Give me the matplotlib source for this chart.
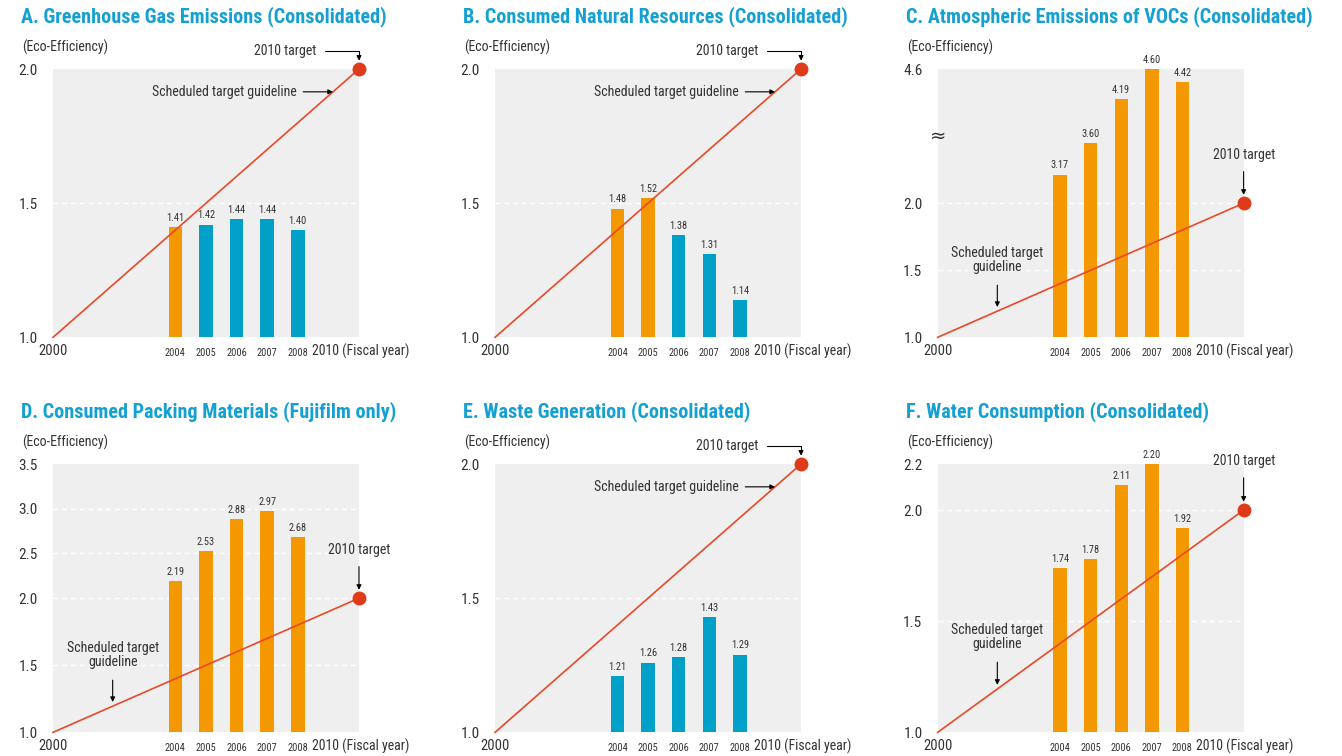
import numpy as np
import matplotlib
matplotlib.use("Agg")
import matplotlib.pyplot as plt
from matplotlib import font_manager

# pick a narrow font if we have one
def pick_font(names):
    for n in names:
        try:
            font_manager.findfont(n, fallback_to_default=False)
            return n
        except Exception:
            pass
    return "DejaVu Sans"

FONT = pick_font(["Liberation Sans Narrow", "Roboto Condensed", "Liberation Sans"])
plt.rcParams["font.family"] = [FONT, "DejaVu Sans"]

# data
years = [2004, 2005, 2006, 2007, 2008]
titles = [
    "A. Greenhouse Gas Emissions (Consolidated)",
    "B. Consumed Natural Resources (Consolidated)",
    "C. Atmospheric Emissions of VOCs (Consolidated)",
    "D. Consumed Packing Materials (Fujifilm only)",
    "E. Waste Generation (Consolidated)",
    "F. Water Consumption (Consolidated)",
]
ghg = [1.41, 1.42, 1.44, 1.44, 1.40]
resources = [1.48, 1.52, 1.38, 1.31, 1.14]
vocs = [3.17, 3.60, 4.19, 4.60, 4.42]
packing = [2.19, 2.53, 2.88, 2.97, 2.68]
waste = [1.21, 1.26, 1.28, 1.43, 1.29]
water = [1.74, 1.78, 2.11, 2.20, 1.92]

ticks_ab = [1.0, 1.5, 2.0]
ticks_c = [1.0, 1.5, 2.0, 4.6]
ticks_d = [1.0, 1.5, 2.0, 2.5, 3.0, 3.5]
ticks_f = [1.0, 1.5, 2.0, 2.2]

guide_years = [2000, 2010]
guide_values = [1.0, 2.0]

# y scales are not linear in some panels (broken axis)
knots_lin = ([1.0, 2.0], [0, 268])
knots_c = ([1.0, 2.0, 3.0, 4.6], [0, 134, 150, 268])
knots_d = ([1.0, 2.0, 3.5], [0, 134, 268])
knots_f = ([1.0, 2.0, 2.2], [0, 222, 268])

ORANGE = "#f39800"
BLUE = "#00a0c9"
RED = "#e84a27"
DOT = "#df3a1a"
BG = "#efefef"
TITLE_C = "#14a0d2"
TXT = "#333333"


def guide(x):
    return np.interp(x, guide_years, guide_values)


def draw_panel(ax, title, values, ticks, knots, top_layout):
    kv, kp = knots
    ax.set_yscale("function",
                  functions=(lambda v: np.interp(v, kv, kp),
                             lambda p: np.interp(p, kp, kv)))
    ax.set_xlim(2000, 2010)
    ax.set_ylim(ticks[0], ticks[-1])
    ax.set_facecolor(BG)
    for s in ax.spines.values():
        s.set_visible(False)

    for t in ticks[1:-1]:
        ax.axhline(t, color="white", lw=0.9, ls=(0, (4, 3)), zorder=1)

    cols = [ORANGE if v >= guide(y) - 1e-9 else BLUE for y, v in zip(years, values)]
    ax.bar(years, np.array(values) - ticks[0], bottom=ticks[0], width=0.44,
           color=cols, zorder=2)
    for y, v in zip(years, values):
        ax.annotate(f"{v:.2f}", (y, v), xytext=(0, 3), textcoords="offset points",
                    ha="center", va="bottom", fontsize=7.5, color=TXT)

    ax.plot(guide_years, guide_values, color=RED, lw=1.2, zorder=3, clip_on=False)
    ax.plot([2010], [2.0], "o", color=DOT, ms=9, zorder=4, clip_on=False)

    ax.set_yticks(ticks)
    ax.set_yticklabels([f"{t:.1f}" for t in ticks], fontsize=11, color=TXT)
    ax.tick_params(axis="y", length=0, pad=11)
    ax.set_xticks(years)
    ax.set_xticklabels([str(y) for y in years], fontsize=7.5, color=TXT)
    ax.tick_params(axis="x", length=0, pad=8)
    xt = ax.get_xaxis_transform()
    ax.text(2000, -0.052, "2000", transform=xt, ha="center", va="center",
            fontsize=10.5, color=TXT)
    ax.text(2008.45, -0.052, "2010 (Fiscal year)", transform=xt, ha="left",
            va="center", fontsize=10, color=TXT)

    ax.text(-0.105, 1.195, title, transform=ax.transAxes, ha="left", va="center",
            fontsize=14.5, fontweight="bold", color=TITLE_C)
    ax.text(-0.10, 1.082, "(Eco-Efficiency)", transform=ax.transAxes, ha="left",
            va="center", fontsize=10, color=TXT)

    arrow = dict(arrowstyle="-|>", color="black", lw=0.8, mutation_scale=7)
    if top_layout:
        ax.annotate("2010 target", xy=(2010, 2.0), xytext=(2007.6, 1.067),
                    textcoords=("data", "axes fraction"),
                    ha="center", va="center", fontsize=10, color=TXT,
                    annotation_clip=False,
                    arrowprops=dict(arrow, connectionstyle="angle,angleA=0,angleB=90,rad=0",
                                    shrinkA=4, shrinkB=6))
        gx = 2009.15
        ax.annotate("Scheduled target guideline", xy=(gx, guide(gx)),
                    xytext=(2007.95, guide(gx)), ha="right", va="center",
                    fontsize=10, color=TXT,
                    arrowprops=dict(arrow, shrinkA=3, shrinkB=0))
    else:
        ty = 1.011 if ticks[-1] < 2.5 else 0.68
        ax.annotate("2010 target", xy=(2010, 2.0), xytext=(1.0, ty),
                    textcoords="axes fraction", ha="center", va="center",
                    fontsize=10, color=TXT, annotation_clip=False,
                    arrowprops=dict(arrow, shrinkA=5, shrinkB=6))
        gx = 2001.95
        gy = 0.355 if ticks[-1] < 2.5 else 0.288
        ax.annotate("Scheduled target\nguideline", xy=(gx, guide(gx)), xytext=(gx, gy),
                    textcoords=("data", "axes fraction"), ha="center", va="center",
                    multialignment="center", fontsize=10, color=TXT, linespacing=1.0,
                    arrowprops=dict(arrow, shrinkA=6, shrinkB=3))
        if ticks[-1] > 4:
            ax.text(0.0, 0.75, "\u2248", transform=ax.transAxes, ha="center",
                    va="center", fontsize=14, color=TXT, family="DejaVu Sans")


fig = plt.figure(figsize=(13.42, 7.56), dpi=100)
fig.patch.set_facecolor("white")
lefts = [0.0395, 0.3689, 0.6987]
bottoms = [0.5538, 0.0313]
w, h = 0.228, 0.3549

panels = [
    (ghg, ticks_ab, knots_lin, True),
    (resources, ticks_ab, knots_lin, True),
    (vocs, ticks_c, knots_c, False),
    (packing, ticks_d, knots_d, False),
    (waste, ticks_ab, knots_lin, True),
    (water, ticks_f, knots_f, False),
]
for i, (vals, tks, kn, top) in enumerate(panels):
    ax = fig.add_axes([lefts[i % 3], bottoms[i // 3], w, h])
    draw_panel(ax, titles[i], vals, tks, kn, top)

fig.savefig("out.png", dpi=100, facecolor="white")
